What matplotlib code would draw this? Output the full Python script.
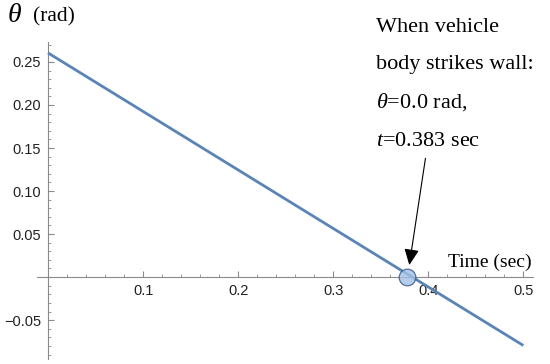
import matplotlib
matplotlib.use("Agg")
import matplotlib.pyplot as plt
from matplotlib.ticker import FixedLocator

# data
t_vals = [0.0, 0.5]
theta_vals = [0.2605, -0.0795]
strike_t = 0.378
strike_theta = 0.0
x_ticks = [0.1, 0.2, 0.3, 0.4, 0.5]
x_tick_labels = ["0.1", "0.2", "0.3", "0.4", "0.5"]
y_ticks = [-0.05, 0.05, 0.10, 0.15, 0.20, 0.25]
y_tick_labels = ["\u22120.05", "0.05", "0.10", "0.15", "0.20", "0.25"]
annot_lines = ["When vehicle", "body strikes wall:", r"$\theta$=0.0 rad,", r"$t$=0.383 sec"]

plt.rcParams['mathtext.fontset'] = 'custom'
plt.rcParams['mathtext.rm'] = 'Liberation Serif'
plt.rcParams['mathtext.it'] = 'Liberation Serif:italic'

fig = plt.figure(figsize=(5.5, 3.64), dpi=100)
ax = fig.add_axes([0, 0, 1, 1])
ax.set_xlim(-0.0505, 0.528)
ax.set_ylim(-0.101, 0.322)

axis_col = '#8a8a8a'
for s in ['top', 'right']:
    ax.spines[s].set_visible(False)
ax.spines['left'].set_position(('data', 0))
ax.spines['bottom'].set_position(('data', 0))
ax.spines['left'].set_bounds(-0.095, 0.273)
ax.spines['bottom'].set_bounds(-0.012, 0.51)
for s in ['left', 'bottom']:
    ax.spines[s].set_color(axis_col)
    ax.spines[s].set_linewidth(0.8)

ax.xaxis.set_major_locator(FixedLocator(x_ticks))
ax.set_xticklabels(x_tick_labels)
ax.yaxis.set_major_locator(FixedLocator(y_ticks))
ax.set_yticklabels(y_tick_labels)
ax.xaxis.set_minor_locator(FixedLocator([i * 0.02 for i in range(1, 26) if i % 5 != 0]))
ax.yaxis.set_minor_locator(FixedLocator([i * 0.01 for i in range(-9, 28) if i % 5 != 0]))
ax.tick_params(which='major', direction='in', length=4, width=0.8, color=axis_col,
               labelsize=10.5, labelcolor='#222222', pad=5)
ax.tick_params(which='minor', direction='in', length=2.3, width=0.6, color=axis_col)
for lab in ax.get_xticklabels() + ax.get_yticklabels():
    lab.set_fontfamily('Liberation Sans')

ax.plot(t_vals, theta_vals, color='#5a84b6', lw=2.0, solid_capstyle='butt', zorder=3)
ax.plot([strike_t], [strike_theta], 'o', ms=12, mfc='#a3c1e6', mec='#2f5582', mew=0.9,
        alpha=0.8, zorder=4)

ax.annotate("", xy=(0.380, 0.014), xytext=(0.397, 0.138),
            arrowprops=dict(arrowstyle='-|>,head_length=0.65,head_width=0.3',
                            color='black', lw=0.8, mutation_scale=15,
                            shrinkA=0, shrinkB=0), zorder=5)

ys = [27, 65, 102, 142]
for line, yp in zip(annot_lines, ys):
    ax.text(376 / 550, 1 - yp / 364, line, transform=ax.transAxes, fontsize=16,
            fontfamily='Liberation Serif', color='#000000', va='center', ha='left')

ax.text(532 / 550, 1 - 262 / 364, "Time (sec)", transform=ax.transAxes, fontsize=14,
        fontfamily='Liberation Serif', color='#000000', va='center', ha='right')
ax.text(7 / 550, 1 - 16 / 364, r"$\theta$", transform=ax.transAxes, fontsize=20,
        fontfamily='Liberation Serif', color='#000000', va='center', ha='left')
ax.text(33 / 550, 1 - 17 / 364, "(rad)", transform=ax.transAxes, fontsize=15.5,
        fontfamily='Liberation Serif', color='#000000', va='center', ha='left')

fig.savefig("out.png", dpi=100)
